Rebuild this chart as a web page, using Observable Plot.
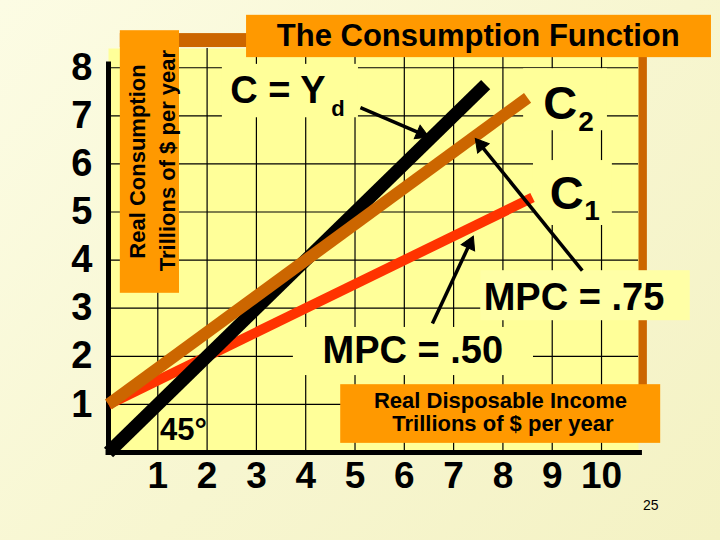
<!DOCTYPE html>
<html>
<head>
<meta charset="utf-8">
<script src="https://cdn.jsdelivr.net/npm/d3@7"></script>
<script src="https://cdn.jsdelivr.net/npm/@observablehq/plot@0.6"></script>
<style>
  html, body { margin: 0; padding: 0; background: #F8F7D3; }
  #chart { width: 720px; height: 540px; }
</style>
</head>
<body>
<div id="chart"></div>
<script>
// ---- data ----
const incomeTicks = [1, 2, 3, 4, 5, 6, 7, 8, 9, 10];
const consumptionTicks = [1, 2, 3, 4, 5, 6, 7, 8];

// 45-degree line C = Yd
const line45Income = [0, 7.65];
const line45Consumption = [0, 7.65];
// C1 : MPC = .50
const c1Income = [0, 8.6];
const c1Consumption = [1, 5.3];
// C2 : MPC = .75
const c2Income = [0, 8.5];
const c2Consumption = [1, 7.375];

// annotation arrows (tail -> head), data units
const arrowFromIncome = [5.11, 9.61, 6.57];
const arrowFromConsumption = [7.17, 3.78, 2.68];
const arrowToIncome = [6.5, 7.44, 7.40];
const arrowToConsumption = [6.56, 6.53, 4.50];

// ---- layout ----
const W = 720, H = 540, ML = 108, MR = 82, MT = 48, MB = 88;
const xDomain = [0, 10.75], yDomain = [0, 8.4];
const kx = (W - ML - MR) / (xDomain[1] - xDomain[0]);
const ky = (H - MT - MB) / (yDomain[1] - yDomain[0]);
const HEAD_R = 5.5;
const headOffset = 0.877 * Math.sqrt(Math.PI * HEAD_R * HEAD_R); // tip distance from centroid, px

// ---- derived tables ----
const toRows = (xs, ys) => xs.map((x, i) => ({x, y: ys[i]}));
const line45 = toRows(line45Income, line45Consumption);
const c1 = toRows(c1Income, c1Consumption);
const c2 = toRows(c2Income, c2Consumption);
const arrows = arrowFromIncome.map((x, i) => {
  const x1 = x, y1 = arrowFromConsumption[i], x2 = arrowToIncome[i], y2 = arrowToConsumption[i];
  const dxp = (x2 - x1) * kx, dyp = -(y2 - y1) * ky;
  const len = Math.hypot(dxp, dyp), ux = dxp / len, uy = dyp / len;
  return {
    x1, y1,
    hx: x2 - ux * headOffset / kx,
    hy: y2 + uy * headOffset / ky,
    rot: Math.atan2(ux, -uy) * 180 / Math.PI
  };
});

// decoration boxes (data units)
const panelBoxes = [
  {x1: 2.31, x2: 5.07, y1: 6.96, y2: 8.07},   // C = Yd
  {x1: 8.42, x2: 10.12, y1: 6.69, y2: 7.98},  // C2
  {x1: 8.62, x2: 10.22, y1: 4.72, y2: 6.07},  // C1
  {x1: 3.75, x2: 8.62, y1: 1.60, y2: 2.60}    // MPC = .50
];
const paleBoxes = [{x1: 7.55, x2: 11.8, y1: 2.74, y2: 3.78}]; // MPC = .75
const orangeBoxes = [
  {x1: 4.71, x2: 11.2, y1: 0.19, y2: 1.41},   // x title
  {x1: 0.24, x2: 1.44, y1: 3.31, y2: 8.77},   // y title
  {x1: 2.80, x2: 12.23, y1: 8.21, y2: 9.09}   // main title
];
const brownBars = [
  {x1: 0.24, x2: 2.90, y1: 8.42, y2: 8.71},
  {x1: 10.73, x2: 10.93, y1: 1.39, y2: 8.42}
];

const FONT = "'Liberation Sans', Arial, Helvetica, sans-serif";
const PANEL = "#FFFF99", ORANGE = "#FF9900", BROWN = "#CC6600", RED = "#FF3300";

const label = (t, x, y, o = {}) =>
  Plot.text([{t, x, y}], {x: "x", y: "y", text: "t", fill: "black", fontWeight: "bold",
    textAnchor: "start", lineAnchor: "bottom", fontFamily: FONT, ...o});

const boxRect = (rows, fill) =>
  Plot.rect(rows, {x1: "x1", x2: "x2", y1: "y1", y2: "y2", fill, stroke: null});

const chart = Plot.plot({
  width: W,
  height: H,
  marginLeft: ML,
  marginRight: MR,
  marginTop: MT,
  marginBottom: MB,
  x: {domain: xDomain},
  y: {domain: yDomain},
  style: {
    background: "linear-gradient(135deg, #FCFCE4 0%, #F7F6D0 55%, #F4F2C4 100%)",
    fontFamily: FONT,
    color: "black",
    overflow: "visible"
  },
  marks: [
    boxRect(brownBars, BROWN),
    Plot.frame({fill: PANEL, stroke: null}),
    Plot.ruleX(incomeTicks, {stroke: "black", strokeWidth: 1.2}),
    Plot.ruleY(consumptionTicks, {stroke: "black", strokeWidth: 1.2}),
    boxRect(panelBoxes, PANEL),
    boxRect(orangeBoxes, ORANGE),
    boxRect(paleBoxes, "#FFFFA6"),
    Plot.ruleX([0], {y1: 0, y2: 8.12, stroke: "black", strokeWidth: 5}),
    Plot.ruleY([0], {x1: -0.05, x2: 10.83, stroke: "black", strokeWidth: 5}),
    Plot.line(c1, {x: "x", y: "y", stroke: RED, strokeWidth: 10, strokeLinecap: "butt"}),
    Plot.line(line45, {x: "x", y: "y", stroke: "black", strokeWidth: 13, strokeLinecap: "butt"}),
    Plot.line(c2, {x: "x", y: "y", stroke: BROWN, strokeWidth: 12, strokeLinecap: "butt"}),
    Plot.link(arrows, {x1: "x1", y1: "y1", x2: "hx", y2: "hy", stroke: "black", strokeWidth: 3.5}),
    Plot.dot(arrows, {x: "hx", y: "hy", symbol: "triangle", r: HEAD_R, rotate: "rot",
      fill: "black", stroke: "black", strokeWidth: 1}),
    Plot.axisX(incomeTicks, {tickSize: 0, tickPadding: 9, fontSize: 37, fontWeight: "bold",
      fontFamily: FONT, label: null}),
    Plot.axisY(consumptionTicks, {tickSize: 0, tickPadding: 16, fontSize: 38, fontWeight: "bold",
      fontFamily: FONT, label: null}),
    label("The Consumption Function", 7.5, 8.46, {fontSize: 31, textAnchor: "middle"}),
    label("Real Consumption", 0.59, 6.05, {fontSize: 22, textAnchor: "middle", lineAnchor: "middle", rotate: -90}),
    label("Trillions of $ per year", 1.21, 6.07, {fontSize: 22, textAnchor: "middle", lineAnchor: "middle", rotate: -90}),
    label("Real Disposable Income", 7.95, 0.915, {fontSize: 22, textAnchor: "middle"}),
    label("Trillions of $ per year", 8.0, 0.44, {fontSize: 22, textAnchor: "middle"}),
    label("C = Y", 2.47, 7.26, {fontSize: 38}),
    label("d", 4.52, 7.0, {fontSize: 22}),
    label("C", 8.82, 6.94, {fontSize: 47}),
    label("2", 9.53, 6.69, {fontSize: 28}),
    label("C", 8.95, 5.07, {fontSize: 47}),
    label("1", 9.65, 4.84, {fontSize: 28}),
    label("MPC = .75", 7.61, 2.97, {fontSize: 38}),
    label("MPC = .50", 4.34, 1.87, {fontSize: 38}),
    label("45°", 1.52, 0.25, {fontSize: 31, textAnchor: "middle"}),
    label("25", 11.0, -1.19, {fontSize: 14, fontWeight: "normal", textAnchor: "middle"})
  ]
});
document.getElementById("chart").appendChild(chart);
</script>
</body>
</html>
